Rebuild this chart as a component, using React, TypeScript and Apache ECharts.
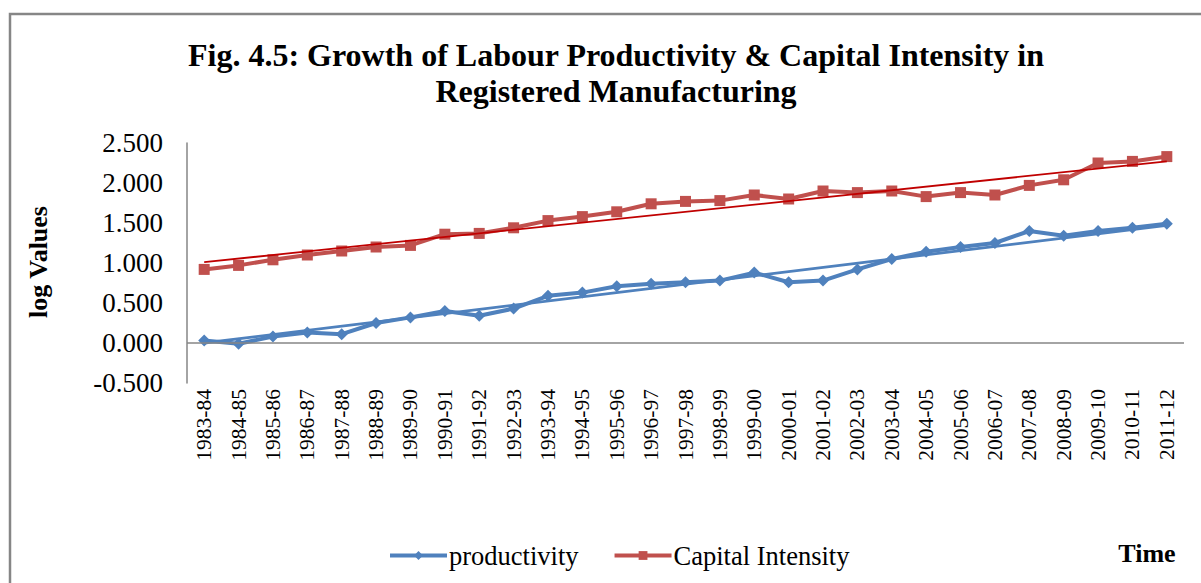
import React, { useEffect, useRef } from "react";
import * as echarts from "echarts";

const categories = [
  "1983-84", "1984-85", "1985-86", "1986-87", "1987-88", "1988-89", "1989-90",
  "1990-91", "1991-92", "1992-93", "1993-94", "1994-95", "1995-96", "1996-97",
  "1997-98", "1998-99", "1999-00", "2000-01", "2001-02", "2002-03", "2003-04",
  "2004-05", "2005-06", "2006-07", "2007-08", "2008-09", "2009-10", "2010-11",
  "2011-12",
];

const productivity = [
  0.03, -0.01, 0.08, 0.13, 0.11, 0.25, 0.32, 0.40, 0.34, 0.43, 0.59, 0.63, 0.71,
  0.74, 0.76, 0.78, 0.88, 0.76, 0.78, 0.92, 1.05, 1.14, 1.20, 1.25, 1.40, 1.34,
  1.40, 1.44, 1.49,
];

const capitalIntensity = [
  0.92, 0.97, 1.04, 1.10, 1.15, 1.20, 1.22, 1.36, 1.37, 1.44, 1.53, 1.58, 1.64,
  1.74, 1.77, 1.78, 1.85, 1.80, 1.90, 1.88, 1.90, 1.83, 1.88, 1.85, 1.97, 2.04,
  2.25, 2.27, 2.33,
];

// Linear trend lines, start and end values
const productivityTrend = [0.0, 1.47];
const capitalTrend = [1.01, 2.27];

const yTicks = { min: -0.5, max: 2.5, interval: 0.5 };

const SERIF = "'Times New Roman', 'Liberation Serif', serif";

export default function App() {
  const ref = useRef<HTMLDivElement>(null);

  useEffect(() => {
    if (!ref.current) return;
    const chart = echarts.init(ref.current, undefined, { renderer: "svg" });
    const last = categories.length - 1;
    chart.setOption({
      animation: false,
      backgroundColor: "#ffffff",
      title: {
        text: "Fig. 4.5: Growth of Labour Productivity & Capital Intensity in\nRegistered Manufacturing",
        left: 611,
        top: 32,
        textAlign: "center",
        textStyle: {
          fontFamily: SERIF,
          fontWeight: "bold",
          fontSize: 32,
          lineHeight: 36,
          color: "#000",
        },
      },
      grid: { left: 187, right: 17, top: 143, bottom: 200, containLabel: false },
      legend: {
        data: ["productivity", "Capital Intensity"],
        left: 383,
        top: 537,
        itemWidth: 57,
        itemHeight: 11,
        itemGap: 34,
        lineStyle: { width: 4 },
        textStyle: { fontFamily: SERIF, fontSize: 26.5, color: "#000", padding: [0, 0, 0, -3] },
      },
      xAxis: {
        type: "category",
        data: categories,
        boundaryGap: true,
        axisLine: { show: false },
        axisTick: { show: false },
        axisLabel: {
          rotate: 90,
          interval: 0,
          margin: 6,
          fontFamily: SERIF,
          fontSize: 21.5,
          color: "#000",
        },
      },
      yAxis: {
        type: "value",
        min: yTicks.min,
        max: yTicks.max,
        interval: yTicks.interval,
        axisLine: { show: true, lineStyle: { color: "#868686", width: 1.5 } },
        axisTick: { show: false },
        splitLine: { show: false },
        axisLabel: {
          margin: 24,
          fontFamily: SERIF,
          fontSize: 27,
          color: "#000",
          formatter: (v: number) => v.toFixed(3),
        },
      },
      graphic: [
        {
          type: "rect",
          shape: { x: 10, y: 14, width: 1400, height: 800 },
          style: { fill: "none", stroke: "#868686", lineWidth: 2.5 },
          silent: true,
        },
        {
          type: "text",
          x: 38,
          y: 262,
          rotation: Math.PI / 2,
          style: {
            text: "log Values",
            fontFamily: SERIF,
            fontWeight: "bold",
            fontSize: 26,
            fill: "#000",
            textAlign: "center",
            textVerticalAlign: "middle",
          },
        },
        {
          type: "text",
          x: 1147,
          y: 553,
          style: {
            text: "Time",
            fontFamily: SERIF,
            fontWeight: "bold",
            fontSize: 26,
            fill: "#000",
            textAlign: "center",
            textVerticalAlign: "middle",
          },
        },
      ],
      series: [
        {
          name: "productivity trend",
          type: "line",
          data: [
            [0, productivityTrend[0]],
            [last, productivityTrend[1]],
          ],
          symbol: "none",
          lineStyle: { color: "#4F81BD", width: 2.8 },
          z: 1,
          silent: true,
        },
        {
          name: "capital trend",
          type: "line",
          data: [
            [0, capitalTrend[0]],
            [last, capitalTrend[1]],
          ],
          symbol: "none",
          lineStyle: { color: "#C00000", width: 1.8 },
          z: 4,
          silent: true,
        },
        {
          name: "productivity",
          type: "line",
          data: productivity,
          symbol: "diamond",
          symbolSize: 12,
          itemStyle: { color: "#4F81BD" },
          lineStyle: { color: "#4F81BD", width: 4 },
          z: 2,
          markLine: {
            silent: true,
            symbol: "none",
            label: { show: false },
            lineStyle: { color: "#868686", width: 1.5, type: "solid" },
            data: [{ yAxis: 0 }],
          },
        },
        {
          name: "Capital Intensity",
          type: "line",
          data: capitalIntensity,
          symbol: "rect",
          symbolSize: 11,
          itemStyle: { color: "#C0504D" },
          lineStyle: { color: "#C0504D", width: 4 },
          z: 3,
        },
      ],
    });
    return () => chart.dispose();
  }, []);

  return (
    <div
      ref={ref}
      style={{ position: "absolute", left: 0, top: 0, width: 1201, height: 583 }}
    />
  );
}
